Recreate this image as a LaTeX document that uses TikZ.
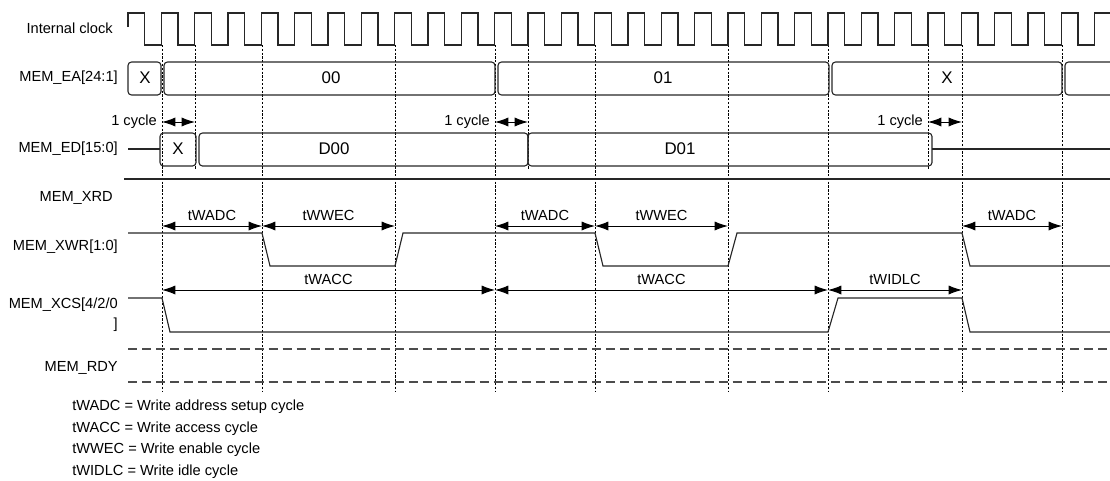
\documentclass[tikz,border=0pt]{standalone}
\usepackage{fontspec}
\setmainfont{Liberation Sans}
\usetikzlibrary{arrows.meta}

\begin{document}
\begin{tikzpicture}[x=0.025cm, y=-0.025cm, font=\fontsize{10.4}{14.2}\selectfont]
\tikzstyle{lbl} = [anchor=east, inner sep=0pt]
\tikzstyle{note} = [anchor=west, inner sep=0pt]
\tikzstyle{val} = [font=\fontsize{12}{14}\selectfont]
\tikzstyle{sig} = [draw=black!85, line width=0.8pt]
\tikzstyle{bus} = [sig, rounded corners=2.5pt]
\tikzstyle{tick} = [draw, line width=0.5pt, dash pattern=on 1.6pt off 1.1pt]
\tikzstyle{idle} = [draw=black!70, line width=0.75pt, dash pattern=on 6.5pt off 3.5pt]
\tikzstyle{span} = [draw, line width=0.7pt, {Latex[length=9.5pt,width=6.5pt]}-{Latex[length=9.5pt,width=6.5pt]}]

\useasboundingbox (0,0) rectangle (1110,480);

% clock edges used as time marks
\coordinate (e1) at (162,0);
\coordinate (e1b) at (195,0);
\coordinate (e2) at (262,0);
\coordinate (e3) at (395,0);
\coordinate (e4) at (495,0);
\coordinate (e4b) at (528,0);
\coordinate (e5) at (595,0);
\coordinate (e6) at (728,0);
\coordinate (e7) at (828,0);
\coordinate (e7b) at (928,0);
\coordinate (e8) at (962,0);
\coordinate (e9) at (1062,0);
% rows
\coordinate (top) at (0,45);
\coordinate (mid) at (0,170);
\coordinate (bot) at (0,392);
\coordinate (cy) at (0,122);
\coordinate (wr) at (0,226);
\coordinate (cs) at (0,290);

% signal names
\node [lbl] (clk) at (113,28) {Internal clock};
\node [lbl] (ea) at (118,78) {MEM\_EA[24:1]};
\node [lbl] (ed) at (118,149) {MEM\_ED[15:0]};
\node [lbl] (xrd) at (113,198) {MEM\_XRD};
\node [lbl] (xwr) at (118,247) {MEM\_XWR[1:0]};
\node [lbl, align=right] (xcs) at (118,315) {MEM\_XCS[4/2/0\\]};
\node [lbl] (rdy) at (118,368) {MEM\_RDY};

% dashed time marks
\foreach \c in {e1,e2,e3,e4,e5,e6,e7,e8,e9}
  \draw [tick] (\c |- top) -- (\c |- bot);
\foreach \c in {e1b,e4b,e7b}
  \draw [tick] (\c |- top) -- (\c |- mid);

% internal clock
\draw [sig] (128,27) -- (128,13)
  \foreach \k in {1,...,29} { -- ++(16.667,0) -- ++(0,32) -- ++(16.667,0) -- ++(0,-32) }
  -- (1110,13);

% address bus
\draw [bus] (128,62) rectangle (161,95);
\draw [bus] (164,62) rectangle (495,95);
\draw [bus] (498,62) rectangle (829,95);
\draw [bus] (832,62) rectangle (1062,95);
\draw [bus] (1110,62) -- (1065,62) -- (1065,95) -- (1110,95);
\node [val] (ea0) at (145,78) {X};
\node [val] (ea1) at (331,78) {00};
\node [val] (ea2) at (663,78) {01};
\node [val] (ea3) at (947,78) {X};

% data bus
\draw [sig] (128,149) -- (160,149);
\draw [bus] (160,133) rectangle (196,166);
\draw [bus] (199,133) rectangle (528,166);
\draw [bus] (528,133) rectangle (932,166);
\draw [sig] (932,149) -- (1110,149);
\node [val] (ed0) at (178,149) {X};
\node [val] (ed1) at (334,149) {D00};
\node [val] (ed2) at (680,149) {D01};

% read strobe
\draw [sig] (124,179) -- (1110,179);

% write strobe
\draw [sig] (128,233) -- (262,233) -- (270,266) -- (395,266) -- (403,233) -- (595,233)
  -- (603,266) -- (728,266) -- (737,233) -- (962,233) -- (970,266) -- (1110,266);

% chip select
\draw [sig] (128,298) -- (162,298) -- (170,332) -- (828,332) -- (838,298) -- (962,298)
  -- (970,332) -- (1110,332);

% ready
\draw [idle] (128,349) -- (1110,349);
\draw [idle] (128,382) -- (1110,382);

% cycle spans
\draw [span] (e1 |- cy) node [left] {1 cycle} -- (e1b |- cy);
\draw [span] (e4 |- cy) node [left] {1 cycle} -- (e4b |- cy);
\draw [span] (e7b |- cy) node [left] {1 cycle} -- (e8 |- cy);
\draw [span] (e1 |- wr) -- node [above] {tWADC} (e2 |- wr);
\draw [span] (e2 |- wr) -- node [above] {tWWEC} (e3 |- wr);
\draw [span] (e4 |- wr) -- node [above] {tWADC} (e5 |- wr);
\draw [span] (e5 |- wr) -- node [above] {tWWEC} (e6 |- wr);
\draw [span] (e8 |- wr) -- node [above] {tWADC} (e9 |- wr);
\draw [span] (e1 |- cs) -- node [above] {tWACC} (e4 |- cs);
\draw [span] (e4 |- cs) -- node [above] {tWACC} (e7 |- cs);
\draw [span] (e7 |- cs) -- node [above] {tWIDLC} (e8 |- cs);

% legend
\node [note] (n1) at (72,407) {tWADC = Write address setup cycle};
\node [note] (n2) at (72,429) {tWACC = Write access cycle};
\node [note] (n3) at (72,450) {tWWEC = Write enable cycle};
\node [note] (n4) at (72,472) {tWIDLC = Write idle cycle};
\end{tikzpicture}
\end{document}
